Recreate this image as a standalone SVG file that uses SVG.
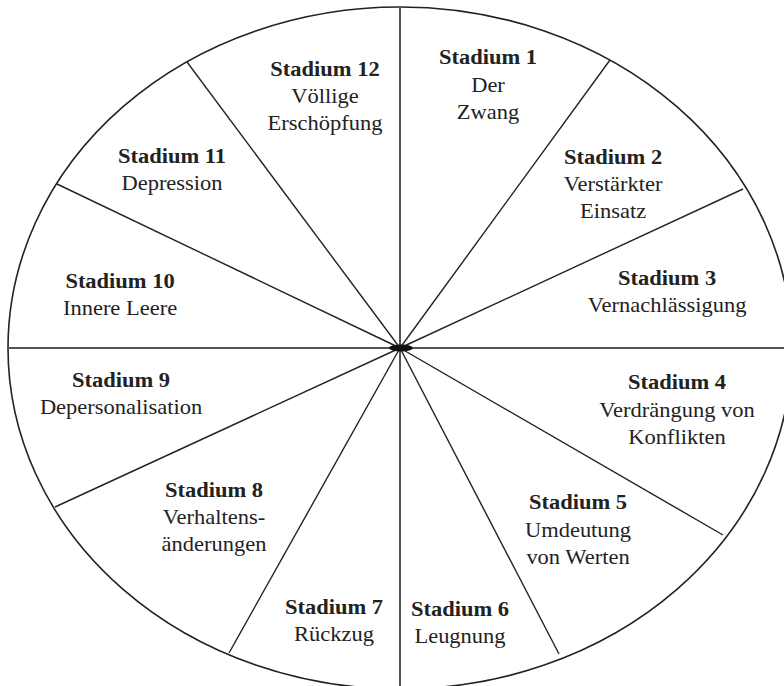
<svg xmlns="http://www.w3.org/2000/svg" width="784" height="686" viewBox="0 0 784 686">
<style>
.rim{fill:none;stroke:#222;stroke-width:1.6}
.sp{stroke:#222;stroke-width:1.4}
.ax{stroke:#555;stroke-width:2}
.lbl text{font-size:20px;fill:#222;text-anchor:middle}
.b{font-weight:bold}
</style>
<rect width="784" height="686" fill="#fff"/>
<ellipse class="rim" cx="400" cy="348" rx="392" ry="341"/>
<g id="connectors">
<line class="ax" x1="8" y1="348" x2="784" y2="348"/>
<line class="ax" x1="400" y1="7" x2="400" y2="686"/>
<line class="sp" x1="400" y1="348" x2="610" y2="60"/>
<line class="sp" x1="400" y1="348" x2="743" y2="189"/>
<line class="sp" x1="400" y1="348" x2="723" y2="535"/>
<line class="sp" x1="400" y1="348" x2="559" y2="654"/>
<line class="sp" x1="400" y1="348" x2="229" y2="653"/>
<line class="sp" x1="400" y1="348" x2="55" y2="507"/>
<line class="sp" x1="400" y1="348" x2="57" y2="184"/>
<line class="sp" x1="400" y1="348" x2="187" y2="62"/>
<ellipse cx="401" cy="348" rx="12" ry="3.5" fill="#111"/>
</g>
<g class="lbl" font-family="Liberation Serif, Times New Roman, DejaVu Serif, serif" transform="scale(1.125 1)">
<g id="s1"><text class="b" x="433.8" y="64">Stadium 1</text><text x="433.8" y="92">Der</text><text x="433.8" y="119">Zwang</text></g>
<g id="s2"><text class="b" x="545" y="164">Stadium 2</text><text x="545" y="191">Verstärkter</text><text x="545" y="218">Einsatz</text></g>
<g id="s3"><text class="b" x="593" y="285">Stadium 3</text><text x="593" y="312">Vernachlässigung</text></g>
<g id="s4"><text class="b" x="601.8" y="389">Stadium 4</text><text x="601.8" y="417">Verdrängung von</text><text x="601.8" y="444">Konflikten</text></g>
<g id="s5"><text class="b" x="513.8" y="509">Stadium 5</text><text x="513.8" y="537">Umdeutung</text><text x="513.8" y="564">von Werten</text></g>
<g id="s6"><text class="b" x="408.9" y="616">Stadium 6</text><text x="408.9" y="643">Leugnung</text></g>
<g id="s7"><text class="b" x="296.9" y="614">Stadium 7</text><text x="296.9" y="641">Rückzug</text></g>
<g id="s8"><text class="b" x="190.2" y="497">Stadium 8</text><text x="190.2" y="524">Verhaltens-</text><text x="190.2" y="551">änderungen</text></g>
<g id="s9"><text class="b" x="107.6" y="387">Stadium 9</text><text x="107.6" y="414">Depersonalisation</text></g>
<g id="s10"><text class="b" x="106.7" y="288">Stadium 10</text><text x="106.7" y="315">Innere Leere</text></g>
<g id="s11"><text class="b" x="152.9" y="163">Stadium 11</text><text x="152.9" y="190">Depression</text></g>
<g id="s12"><text class="b" x="288.9" y="76">Stadium 12</text><text x="288.9" y="103">Völlige</text><text x="288.9" y="130">Erschöpfung</text></g>
</g>
</svg>
